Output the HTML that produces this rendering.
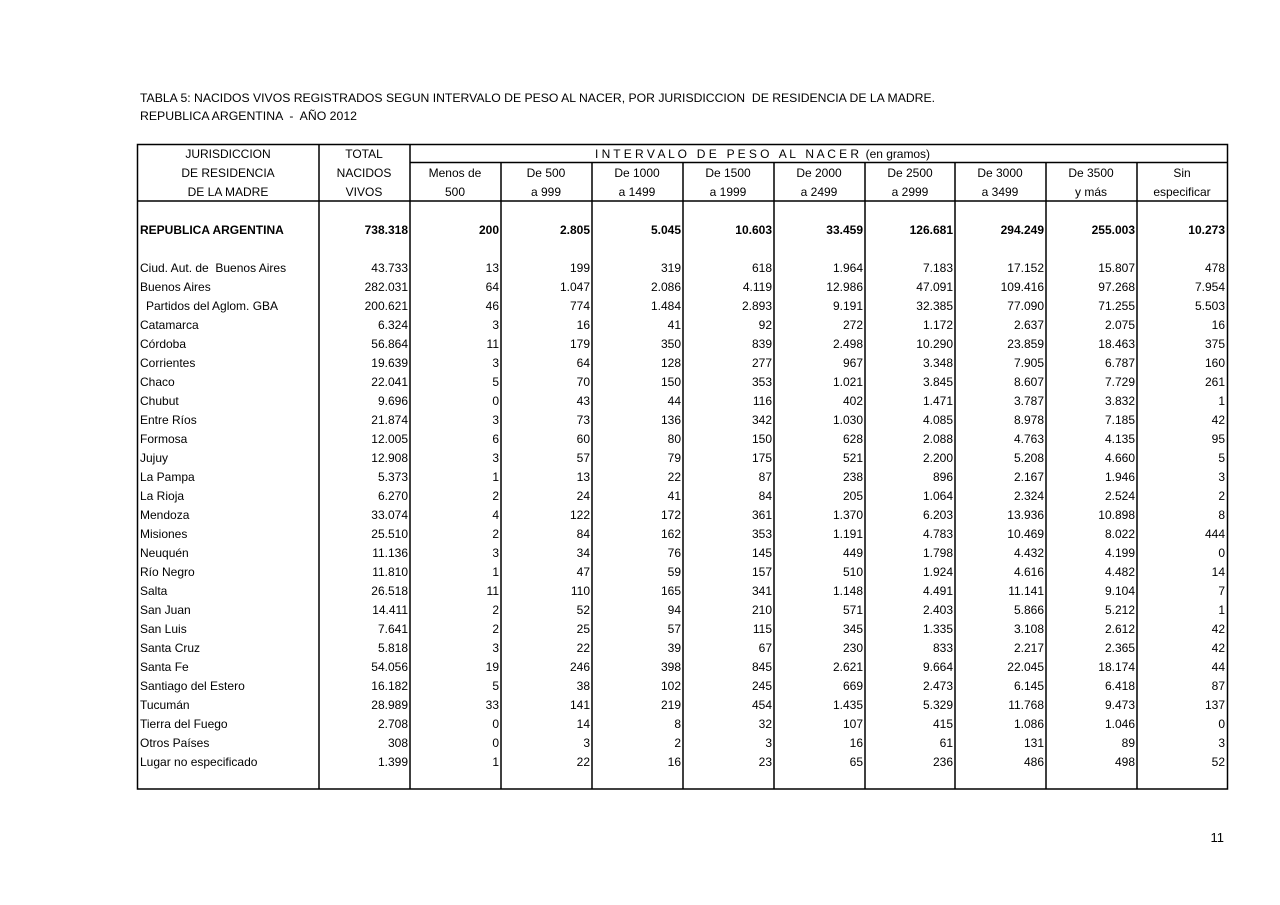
<!DOCTYPE html>
<html><head><meta charset="utf-8"><style>
html,body{margin:0;padding:0;background:#fff;}
svg{display:block;font-family:"Liberation Sans",sans-serif;font-size:12px;fill:#000;white-space:pre;}
text{white-space:pre}
.r{text-anchor:end}.c{text-anchor:middle}.b{font-weight:bold}
</style></head><body>
<svg width="1280" height="905" viewBox="0 0 1280 905" xmlns="http://www.w3.org/2000/svg" xml:space="preserve">
<text x="140" y="102" textLength="795" lengthAdjust="spacingAndGlyphs">TABLA 5: NACIDOS VIVOS REGISTRADOS SEGUN INTERVALO DE PESO AL NACER, POR JURISDICCION  DE RESIDENCIA DE LA MADRE.</text>
<text x="140" y="120" textLength="217" lengthAdjust="spacingAndGlyphs">REPUBLICA ARGENTINA  -  AÑO 2012</text>
<g stroke="#000" stroke-width="1.5" fill="none">
<rect x="137.5" y="144.5" width="1090" height="644.5"/>
<line x1="410" y1="162.5" x2="1227" y2="162.5"/>
<line x1="137" y1="201" x2="1227" y2="201"/>
<line x1="319" y1="144" x2="319" y2="789"/>
<line x1="410" y1="144" x2="410" y2="789"/>
<line x1="501" y1="162" x2="501" y2="789"/>
<line x1="592" y1="162" x2="592" y2="789"/>
<line x1="683" y1="162" x2="683" y2="789"/>
<line x1="774" y1="162" x2="774" y2="789"/>
<line x1="865" y1="162" x2="865" y2="789"/>
<line x1="955" y1="162" x2="955" y2="789"/>
<line x1="1046" y1="162" x2="1046" y2="789"/>
<line x1="1137" y1="162" x2="1137" y2="789"/>
</g>
<text x="595" y="158" textLength="335" lengthAdjust="spacing" style="text-anchor:start">I N T E R V A L O   D E   P E S O   A L   N A C E R  (en gramos)</text>
<g class="c">
<text x="228" y="158" class="c">JURISDICCION</text>
<text x="228" y="177" class="c">DE RESIDENCIA</text>
<text x="228" y="196" class="c">DE LA MADRE</text>
<text x="364" y="158" class="c">TOTAL</text>
<text x="364" y="177" class="c">NACIDOS</text>
<text x="364" y="196" class="c">VIVOS</text>
<text x="455" y="177" class="c">Menos de</text><text x="455" y="196" class="c">500</text>
<text x="546" y="177" class="c">De 500</text><text x="546" y="196" class="c">a 999</text>
<text x="637" y="177" class="c">De 1000</text><text x="637" y="196" class="c">a 1499</text>
<text x="728" y="177" class="c">De 1500</text><text x="728" y="196" class="c">a 1999</text>
<text x="819" y="177" class="c">De 2000</text><text x="819" y="196" class="c">a 2499</text>
<text x="910" y="177" class="c">De 2500</text><text x="910" y="196" class="c">a 2999</text>
<text x="1000" y="177" class="c">De 3000</text><text x="1000" y="196" class="c">a 3499</text>
<text x="1091" y="177" class="c">De 3500</text><text x="1091" y="196" class="c">y más</text>
<text x="1182" y="177" class="c">Sin</text><text x="1182" y="196" class="c">especificar</text>
</g>
<g class="b">
<text x="140" y="234">REPUBLICA ARGENTINA</text>
<text x="408" y="234" class="r">738.318</text><text x="499" y="234" class="r">200</text><text x="590" y="234" class="r">2.805</text><text x="681" y="234" class="r">5.045</text><text x="772" y="234" class="r">10.603</text><text x="863" y="234" class="r">33.459</text><text x="953" y="234" class="r">126.681</text><text x="1044" y="234" class="r">294.249</text><text x="1135" y="234" class="r">255.003</text><text x="1225" y="234" class="r">10.273</text>
</g>
<g>
<text x="140" y="272">Ciud. Aut. de  Buenos Aires</text><text x="408" y="272" class="r">43.733</text><text x="499" y="272" class="r">13</text><text x="590" y="272" class="r">199</text><text x="681" y="272" class="r">319</text><text x="772" y="272" class="r">618</text><text x="863" y="272" class="r">1.964</text><text x="953" y="272" class="r">7.183</text><text x="1044" y="272" class="r">17.152</text><text x="1135" y="272" class="r">15.807</text><text x="1225" y="272" class="r">478</text>
<text x="140" y="291">Buenos Aires</text><text x="408" y="291" class="r">282.031</text><text x="499" y="291" class="r">64</text><text x="590" y="291" class="r">1.047</text><text x="681" y="291" class="r">2.086</text><text x="772" y="291" class="r">4.119</text><text x="863" y="291" class="r">12.986</text><text x="953" y="291" class="r">47.091</text><text x="1044" y="291" class="r">109.416</text><text x="1135" y="291" class="r">97.268</text><text x="1225" y="291" class="r">7.954</text>
<text x="146" y="310">Partidos del Aglom. GBA</text><text x="408" y="310" class="r">200.621</text><text x="499" y="310" class="r">46</text><text x="590" y="310" class="r">774</text><text x="681" y="310" class="r">1.484</text><text x="772" y="310" class="r">2.893</text><text x="863" y="310" class="r">9.191</text><text x="953" y="310" class="r">32.385</text><text x="1044" y="310" class="r">77.090</text><text x="1135" y="310" class="r">71.255</text><text x="1225" y="310" class="r">5.503</text>
<text x="140" y="329">Catamarca</text><text x="408" y="329" class="r">6.324</text><text x="499" y="329" class="r">3</text><text x="590" y="329" class="r">16</text><text x="681" y="329" class="r">41</text><text x="772" y="329" class="r">92</text><text x="863" y="329" class="r">272</text><text x="953" y="329" class="r">1.172</text><text x="1044" y="329" class="r">2.637</text><text x="1135" y="329" class="r">2.075</text><text x="1225" y="329" class="r">16</text>
<text x="140" y="348">Córdoba</text><text x="408" y="348" class="r">56.864</text><text x="499" y="348" class="r">11</text><text x="590" y="348" class="r">179</text><text x="681" y="348" class="r">350</text><text x="772" y="348" class="r">839</text><text x="863" y="348" class="r">2.498</text><text x="953" y="348" class="r">10.290</text><text x="1044" y="348" class="r">23.859</text><text x="1135" y="348" class="r">18.463</text><text x="1225" y="348" class="r">375</text>
<text x="140" y="367">Corrientes</text><text x="408" y="367" class="r">19.639</text><text x="499" y="367" class="r">3</text><text x="590" y="367" class="r">64</text><text x="681" y="367" class="r">128</text><text x="772" y="367" class="r">277</text><text x="863" y="367" class="r">967</text><text x="953" y="367" class="r">3.348</text><text x="1044" y="367" class="r">7.905</text><text x="1135" y="367" class="r">6.787</text><text x="1225" y="367" class="r">160</text>
<text x="140" y="386">Chaco</text><text x="408" y="386" class="r">22.041</text><text x="499" y="386" class="r">5</text><text x="590" y="386" class="r">70</text><text x="681" y="386" class="r">150</text><text x="772" y="386" class="r">353</text><text x="863" y="386" class="r">1.021</text><text x="953" y="386" class="r">3.845</text><text x="1044" y="386" class="r">8.607</text><text x="1135" y="386" class="r">7.729</text><text x="1225" y="386" class="r">261</text>
<text x="140" y="405">Chubut</text><text x="408" y="405" class="r">9.696</text><text x="499" y="405" class="r">0</text><text x="590" y="405" class="r">43</text><text x="681" y="405" class="r">44</text><text x="772" y="405" class="r">116</text><text x="863" y="405" class="r">402</text><text x="953" y="405" class="r">1.471</text><text x="1044" y="405" class="r">3.787</text><text x="1135" y="405" class="r">3.832</text><text x="1225" y="405" class="r">1</text>
<text x="140" y="424">Entre Ríos</text><text x="408" y="424" class="r">21.874</text><text x="499" y="424" class="r">3</text><text x="590" y="424" class="r">73</text><text x="681" y="424" class="r">136</text><text x="772" y="424" class="r">342</text><text x="863" y="424" class="r">1.030</text><text x="953" y="424" class="r">4.085</text><text x="1044" y="424" class="r">8.978</text><text x="1135" y="424" class="r">7.185</text><text x="1225" y="424" class="r">42</text>
<text x="140" y="443">Formosa</text><text x="408" y="443" class="r">12.005</text><text x="499" y="443" class="r">6</text><text x="590" y="443" class="r">60</text><text x="681" y="443" class="r">80</text><text x="772" y="443" class="r">150</text><text x="863" y="443" class="r">628</text><text x="953" y="443" class="r">2.088</text><text x="1044" y="443" class="r">4.763</text><text x="1135" y="443" class="r">4.135</text><text x="1225" y="443" class="r">95</text>
<text x="140" y="462">Jujuy</text><text x="408" y="462" class="r">12.908</text><text x="499" y="462" class="r">3</text><text x="590" y="462" class="r">57</text><text x="681" y="462" class="r">79</text><text x="772" y="462" class="r">175</text><text x="863" y="462" class="r">521</text><text x="953" y="462" class="r">2.200</text><text x="1044" y="462" class="r">5.208</text><text x="1135" y="462" class="r">4.660</text><text x="1225" y="462" class="r">5</text>
<text x="140" y="481">La Pampa</text><text x="408" y="481" class="r">5.373</text><text x="499" y="481" class="r">1</text><text x="590" y="481" class="r">13</text><text x="681" y="481" class="r">22</text><text x="772" y="481" class="r">87</text><text x="863" y="481" class="r">238</text><text x="953" y="481" class="r">896</text><text x="1044" y="481" class="r">2.167</text><text x="1135" y="481" class="r">1.946</text><text x="1225" y="481" class="r">3</text>
<text x="140" y="500">La Rioja</text><text x="408" y="500" class="r">6.270</text><text x="499" y="500" class="r">2</text><text x="590" y="500" class="r">24</text><text x="681" y="500" class="r">41</text><text x="772" y="500" class="r">84</text><text x="863" y="500" class="r">205</text><text x="953" y="500" class="r">1.064</text><text x="1044" y="500" class="r">2.324</text><text x="1135" y="500" class="r">2.524</text><text x="1225" y="500" class="r">2</text>
<text x="140" y="519">Mendoza</text><text x="408" y="519" class="r">33.074</text><text x="499" y="519" class="r">4</text><text x="590" y="519" class="r">122</text><text x="681" y="519" class="r">172</text><text x="772" y="519" class="r">361</text><text x="863" y="519" class="r">1.370</text><text x="953" y="519" class="r">6.203</text><text x="1044" y="519" class="r">13.936</text><text x="1135" y="519" class="r">10.898</text><text x="1225" y="519" class="r">8</text>
<text x="140" y="538">Misiones</text><text x="408" y="538" class="r">25.510</text><text x="499" y="538" class="r">2</text><text x="590" y="538" class="r">84</text><text x="681" y="538" class="r">162</text><text x="772" y="538" class="r">353</text><text x="863" y="538" class="r">1.191</text><text x="953" y="538" class="r">4.783</text><text x="1044" y="538" class="r">10.469</text><text x="1135" y="538" class="r">8.022</text><text x="1225" y="538" class="r">444</text>
<text x="140" y="557">Neuquén</text><text x="408" y="557" class="r">11.136</text><text x="499" y="557" class="r">3</text><text x="590" y="557" class="r">34</text><text x="681" y="557" class="r">76</text><text x="772" y="557" class="r">145</text><text x="863" y="557" class="r">449</text><text x="953" y="557" class="r">1.798</text><text x="1044" y="557" class="r">4.432</text><text x="1135" y="557" class="r">4.199</text><text x="1225" y="557" class="r">0</text>
<text x="140" y="576">Río Negro</text><text x="408" y="576" class="r">11.810</text><text x="499" y="576" class="r">1</text><text x="590" y="576" class="r">47</text><text x="681" y="576" class="r">59</text><text x="772" y="576" class="r">157</text><text x="863" y="576" class="r">510</text><text x="953" y="576" class="r">1.924</text><text x="1044" y="576" class="r">4.616</text><text x="1135" y="576" class="r">4.482</text><text x="1225" y="576" class="r">14</text>
<text x="140" y="595">Salta</text><text x="408" y="595" class="r">26.518</text><text x="499" y="595" class="r">11</text><text x="590" y="595" class="r">110</text><text x="681" y="595" class="r">165</text><text x="772" y="595" class="r">341</text><text x="863" y="595" class="r">1.148</text><text x="953" y="595" class="r">4.491</text><text x="1044" y="595" class="r">11.141</text><text x="1135" y="595" class="r">9.104</text><text x="1225" y="595" class="r">7</text>
<text x="140" y="614">San Juan</text><text x="408" y="614" class="r">14.411</text><text x="499" y="614" class="r">2</text><text x="590" y="614" class="r">52</text><text x="681" y="614" class="r">94</text><text x="772" y="614" class="r">210</text><text x="863" y="614" class="r">571</text><text x="953" y="614" class="r">2.403</text><text x="1044" y="614" class="r">5.866</text><text x="1135" y="614" class="r">5.212</text><text x="1225" y="614" class="r">1</text>
<text x="140" y="633">San Luis</text><text x="408" y="633" class="r">7.641</text><text x="499" y="633" class="r">2</text><text x="590" y="633" class="r">25</text><text x="681" y="633" class="r">57</text><text x="772" y="633" class="r">115</text><text x="863" y="633" class="r">345</text><text x="953" y="633" class="r">1.335</text><text x="1044" y="633" class="r">3.108</text><text x="1135" y="633" class="r">2.612</text><text x="1225" y="633" class="r">42</text>
<text x="140" y="652">Santa Cruz</text><text x="408" y="652" class="r">5.818</text><text x="499" y="652" class="r">3</text><text x="590" y="652" class="r">22</text><text x="681" y="652" class="r">39</text><text x="772" y="652" class="r">67</text><text x="863" y="652" class="r">230</text><text x="953" y="652" class="r">833</text><text x="1044" y="652" class="r">2.217</text><text x="1135" y="652" class="r">2.365</text><text x="1225" y="652" class="r">42</text>
<text x="140" y="671">Santa Fe</text><text x="408" y="671" class="r">54.056</text><text x="499" y="671" class="r">19</text><text x="590" y="671" class="r">246</text><text x="681" y="671" class="r">398</text><text x="772" y="671" class="r">845</text><text x="863" y="671" class="r">2.621</text><text x="953" y="671" class="r">9.664</text><text x="1044" y="671" class="r">22.045</text><text x="1135" y="671" class="r">18.174</text><text x="1225" y="671" class="r">44</text>
<text x="140" y="690">Santiago del Estero</text><text x="408" y="690" class="r">16.182</text><text x="499" y="690" class="r">5</text><text x="590" y="690" class="r">38</text><text x="681" y="690" class="r">102</text><text x="772" y="690" class="r">245</text><text x="863" y="690" class="r">669</text><text x="953" y="690" class="r">2.473</text><text x="1044" y="690" class="r">6.145</text><text x="1135" y="690" class="r">6.418</text><text x="1225" y="690" class="r">87</text>
<text x="140" y="709">Tucumán</text><text x="408" y="709" class="r">28.989</text><text x="499" y="709" class="r">33</text><text x="590" y="709" class="r">141</text><text x="681" y="709" class="r">219</text><text x="772" y="709" class="r">454</text><text x="863" y="709" class="r">1.435</text><text x="953" y="709" class="r">5.329</text><text x="1044" y="709" class="r">11.768</text><text x="1135" y="709" class="r">9.473</text><text x="1225" y="709" class="r">137</text>
<text x="140" y="728">Tierra del Fuego</text><text x="408" y="728" class="r">2.708</text><text x="499" y="728" class="r">0</text><text x="590" y="728" class="r">14</text><text x="681" y="728" class="r">8</text><text x="772" y="728" class="r">32</text><text x="863" y="728" class="r">107</text><text x="953" y="728" class="r">415</text><text x="1044" y="728" class="r">1.086</text><text x="1135" y="728" class="r">1.046</text><text x="1225" y="728" class="r">0</text>
<text x="140" y="747">Otros Países</text><text x="408" y="747" class="r">308</text><text x="499" y="747" class="r">0</text><text x="590" y="747" class="r">3</text><text x="681" y="747" class="r">2</text><text x="772" y="747" class="r">3</text><text x="863" y="747" class="r">16</text><text x="953" y="747" class="r">61</text><text x="1044" y="747" class="r">131</text><text x="1135" y="747" class="r">89</text><text x="1225" y="747" class="r">3</text>
<text x="140" y="766">Lugar no especificado</text><text x="408" y="766" class="r">1.399</text><text x="499" y="766" class="r">1</text><text x="590" y="766" class="r">22</text><text x="681" y="766" class="r">16</text><text x="772" y="766" class="r">23</text><text x="863" y="766" class="r">65</text><text x="953" y="766" class="r">236</text><text x="1044" y="766" class="r">486</text><text x="1135" y="766" class="r">498</text><text x="1225" y="766" class="r">52</text>
</g>
<text x="1224" y="842" class="r" style="font-size:13px">11</text>
</svg>
</body></html>
